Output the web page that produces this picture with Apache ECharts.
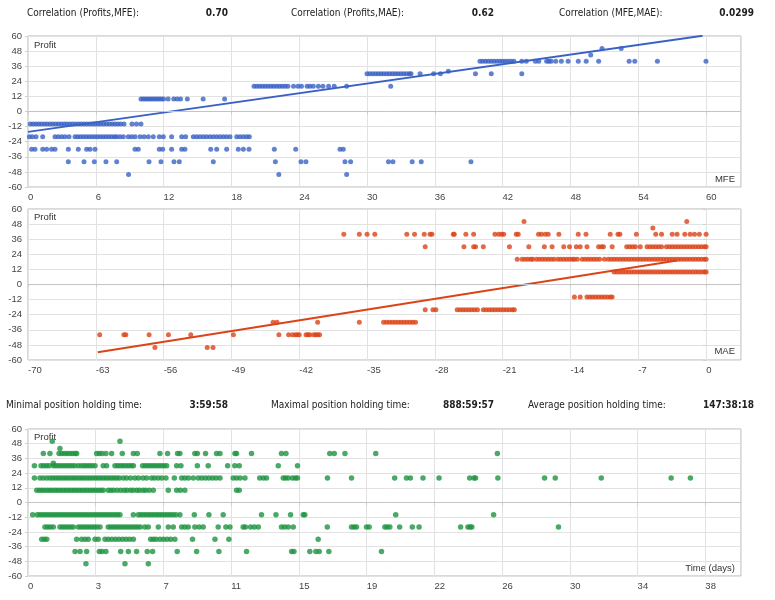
<!DOCTYPE html>
<html><head><meta charset="utf-8">
<script src="https://cdn.jsdelivr.net/npm/echarts@6/dist/echarts.min.js"></script>
<style>html,body{margin:0;padding:0;background:#fff}#c{width:775px;height:600px}</style>
</head><body><div id="c"></div>
<script>
// ---------- Chart 1: Profit vs MFE (MFE values per profit level) ----------
const mfe_m50 = [8.9, 22.2, 28.2];
const mfe_m40 = [3.57, 4.96, 5.87, 6.9, 7.85, 10.71, 11.77, 12.92, 13.39, 16.4, 21.89, 24.16, 24.6, 28.05, 28.55, 31.9, 32.3, 34.0, 34.8, 39.2];
const mfe_m30 = [0.32, 0.62, 1.3, 1.65, 2.09, 2.39, 3.57, 4.45, 5.19, 5.49, 5.93, 9.47, 9.76, 11.62, 11.92, 12.71, 13.6, 13.89, 16.17, 16.7, 17.58, 18.61, 19.06, 19.56, 21.8, 23.69, 27.61, 27.9];
const mfe_m20 = [0.12, 0.38, 0.71, 1.3, 2.39, 2.68, 2.98, 3.27, 3.63, 4.16, 4.4, 4.65, 4.9, 5.15, 5.4, 5.65, 5.9, 6.15, 6.4, 6.65, 6.9, 7.15, 7.4, 7.65, 7.85, 8.14, 8.44, 8.88, 9.17, 9.47, 9.91, 10.27, 10.65, 11.09, 11.62, 11.98, 12.71, 13.6, 13.95, 14.63, 14.93, 15.22, 15.52, 15.81, 16.11, 16.4, 16.7, 16.99, 17.29, 17.58, 17.88, 18.47, 18.76, 19.06, 19.35, 19.59];
const mfe_m10 = [0.2, 0.45, 0.7, 0.95, 1.2, 1.45, 1.7, 1.95, 2.2, 2.45, 2.7, 2.95, 3.2, 3.45, 3.7, 3.95, 4.2, 4.45, 4.7, 4.95, 5.2, 5.45, 5.7, 5.95, 6.2, 6.45, 6.7, 6.95, 7.2, 7.45, 7.7, 7.95, 8.2, 8.5, 9.2, 9.6, 10.0];
const mfe_p10 = [10.0, 10.2, 10.4, 10.6, 10.8, 11.0, 11.2, 11.4, 11.6, 11.8, 12.0, 12.4, 12.9, 13.2, 13.5, 14.1, 15.5, 17.4];
const mfe_p20 = [20.0, 20.25, 20.5, 20.75, 21.0, 21.25, 21.5, 21.75, 22.0, 22.25, 22.5, 22.75, 23.0, 23.5, 23.9, 24.2, 24.7, 24.96, 25.25, 25.7, 26.1, 26.6, 27.1, 28.2, 32.1];
const mfe_p30 = [30.0, 30.25, 30.5, 30.75, 31.0, 31.25, 31.5, 31.75, 32.0, 32.25, 32.5, 32.75, 33.0, 33.25, 33.5, 33.75, 33.9, 34.7, 35.9, 36.5, 39.6, 41.0, 43.7];
const mfe_p32 = [37.2];
const mfe_p40 = [40.0, 40.25, 40.5, 40.75, 41.0, 41.25, 41.5, 41.75, 42.0, 42.25, 42.5, 42.75, 43.0, 43.7, 44.1, 44.9, 45.2, 45.9, 46.1, 46.3, 46.7, 47.2, 47.8, 48.7, 49.4, 50.5, 53.2, 53.7, 55.7, 60.0];
const mfe_p45 = [49.8];
const mfe_p50 = [50.8, 52.5];
const trend1X = [0, 59.7];
const trend1Y = [-16.2, 60.2];

// ---------- Chart 2: Profit vs MAE ----------
const mae_m50 = [-56.9, -51.5, -50.9];
const mae_m40 = [-62.6, -60.1, -59.9, -57.5, -55.5, -53.2, -48.8, -44.1, -43.1, -42.7, -42.4, -42.2, -42.0, -41.3, -41.1, -40.9, -40.5, -40.3, -40.1, -39.9];
const mae_m30 = [-44.7, -44.3, -40.1, -35.8, -33.3, -33.0, -32.7, -32.4, -32.1, -31.8, -31.5, -31.2, -30.9, -30.6, -30.3, -30.0];
const mae_m20 = [-29.0, -28.2, -27.9, -25.7, -25.4, -25.1, -24.8, -24.5, -24.2, -23.9, -23.6, -23.0, -22.7, -22.4, -22.1, -21.8, -21.5, -21.2, -20.9, -20.6, -20.3, -20.0, -19.8];
const mae_m10 = [-13.6, -13.0, -12.3, -12.0, -11.7, -11.4, -11.1, -10.8, -10.5, -10.2, -9.9, -9.7];
const mae_p10 = [-9.5, -9.2, -8.9, -8.6, -8.3, -8.0, -7.7, -7.4, -7.1, -6.8, -6.5, -6.2, -5.9, -5.6, -5.3, -5.0, -4.7, -4.4, -4.1, -3.8, -3.5, -3.2, -2.9, -2.6, -2.3, -2.0, -1.7, -1.4, -1.1, -0.8, -0.5, -0.2, 0];
const mae_p20 = [-19.5, -19.0, -18.7, -18.4, -18.1, -17.9, -17.5, -17.2, -16.9, -16.6, -16.3, -16.0, -15.7, -15.3, -15.0, -14.7, -14.4, -14.1, -13.8, -13.6, -13.3, -12.8, -12.5, -12.2, -11.9, -11.6, -11.3, -11.0, -10.5, -10.1, -9.8, -9.5, -9.2, -8.9, -8.6, -8.3, -8.0, -7.7, -7.4, -7.1, -6.8, -6.5, -6.2, -5.9, -5.6, -5.3, -5.0, -4.7, -4.4, -4.1, -3.8, -3.5, -3.2, -2.9, -2.6, -2.3, -2.0, -1.7, -1.4, -1.1, -0.8, -0.5, -0.2, 0];
const mae_p30 = [-29.0, -25.0, -24.0, -23.8, -23.0, -20.3, -18.3, -16.7, -15.9, -14.7, -14.1, -13.4, -13.0, -12.3, -11.1, -10.8, -10.6, -9.7, -8.2, -7.9, -7.6, -7.3, -6.8, -6.1, -5.8, -5.5, -5.2, -4.9, -4.6, -4.1, -3.8, -3.5, -3.2, -2.9, -2.6, -2.3, -2.0, -1.7, -1.4, -1.1, -0.8, -0.5, -0.2, 0];
const mae_p40 = [-37.4, -35.8, -35.0, -34.2, -30.9, -30.1, -29.1, -28.5, -28.3, -26.1, -26.0, -24.8, -24.0, -21.8, -21.4, -21.1, -20.9, -19.6, -19.4, -17.3, -17.0, -16.6, -16.3, -15.2, -13.2, -12.4, -9.9, -9.1, -8.9, -7.2, -5.2, -4.6, -3.5, -3.0, -2.2, -1.65, -1.2, -0.7, 0];
const mae_p45 = [-5.5];
const mae_p50 = [-18.8, -2.0];
const trend2X = [-62.8, -3.0];
const trend2Y = [-53.9, 19.0];

// ---------- Chart 3: Profit vs holding time (days) ----------
const day_m50 = [3.25, 5.44, 6.75];
const day_m40 = [2.64, 2.92, 3.29, 4.0, 4.15, 4.37, 5.2, 5.63, 6.09, 6.69, 6.99, 8.37, 9.46, 10.71, 12.26, 14.79, 14.92, 15.81, 16.15, 16.34, 16.88, 19.83];
const day_m30 = [0.77, 0.92, 1.05, 2.73, 3.01, 3.2, 3.38, 3.76, 3.94, 4.32, 4.5, 4.7, 4.9, 5.1, 5.3, 5.5, 5.7, 5.91, 6.88, 7.03, 7.18, 7.4, 7.6, 7.8, 8.0, 8.24, 9.23, 10.49, 11.27, 16.28];
const day_m20 = [0.95, 1.1, 1.25, 1.42, 1.79, 1.94, 2.09, 2.24, 2.39, 2.54, 2.82, 2.97, 3.12, 3.27, 3.42, 3.57, 3.72, 3.87, 4.04, 4.5, 4.65, 4.8, 4.95, 5.1, 5.25, 5.4, 5.55, 5.7, 5.85, 6.0, 6.15, 6.3, 6.56, 6.75, 7.31, 7.87, 8.15, 8.62, 8.8, 8.99, 9.36, 9.6, 9.83, 10.67, 11.1, 11.33, 12.07, 12.2, 12.49, 12.7, 12.92, 14.22, 14.4, 14.6, 14.88, 16.79, 18.15, 18.3, 18.43, 18.99, 19.14, 20.02, 20.15, 20.3, 20.85, 21.56, 21.94, 24.27, 24.68, 24.8, 24.9, 29.76];
const day_m10 = [0.26, 0.52, 0.67, 0.82, 0.97, 1.12, 1.27, 1.42, 1.57, 1.72, 1.87, 2.02, 2.17, 2.32, 2.47, 2.62, 2.77, 2.92, 3.07, 3.22, 3.37, 3.52, 3.67, 3.82, 3.97, 4.12, 4.27, 4.42, 4.57, 4.72, 4.87, 5.02, 5.16, 5.91, 6.19, 6.34, 6.49, 6.64, 6.79, 6.94, 7.09, 7.24, 7.39, 7.54, 7.69, 7.84, 7.99, 8.14, 8.3, 8.52, 9.33, 10.15, 10.95, 13.1, 13.91, 14.73, 15.44, 15.53, 20.63, 26.12];
const day_p10 = [0.49, 0.64, 0.79, 0.94, 1.09, 1.24, 1.39, 1.54, 1.69, 1.84, 1.99, 2.14, 2.29, 2.44, 2.59, 2.74, 2.89, 3.04, 3.19, 3.34, 3.49, 3.64, 3.79, 3.94, 4.09, 4.22, 4.5, 4.65, 4.8, 5.0, 5.2, 5.4, 5.55, 5.75, 5.9, 6.1, 6.25, 6.45, 6.6, 6.8, 7.03, 7.87, 8.34, 8.55, 8.8, 11.7, 11.85];
const day_p20 = [0.36, 0.67, 0.85, 1.05, 1.23, 1.38, 1.53, 1.68, 1.83, 1.98, 2.13, 2.28, 2.43, 2.58, 2.73, 2.88, 3.03, 3.18, 3.33, 3.48, 3.63, 3.78, 3.93, 4.08, 4.23, 4.38, 4.53, 4.68, 4.83, 4.98, 5.13, 5.35, 5.53, 5.75, 6.0, 6.2, 6.45, 6.65, 6.93, 7.1, 7.3, 7.5, 7.74, 8.21, 8.62, 8.8, 9.0, 9.27, 9.55, 9.75, 9.95, 10.15, 10.35, 10.55, 10.77, 11.51, 11.7, 11.9, 12.17, 13.0, 13.2, 13.38, 14.32, 14.45, 14.6, 14.84, 15.0, 15.12, 16.8, 18.15, 20.57, 21.23, 21.45, 22.16, 23.06, 24.78, 25.02, 25.11, 26.36, 28.98, 29.58, 32.16, 36.08, 37.16];
const day_p30 = [0.36, 0.73, 0.88, 1.03, 1.18, 1.42, 1.57, 1.72, 1.87, 2.02, 2.17, 2.32, 2.47, 2.62, 2.82, 3.0, 3.15, 3.3, 3.45, 3.6, 3.76, 4.22, 4.41, 4.88, 5.03, 5.18, 5.33, 5.48, 5.63, 5.78, 5.91, 6.43, 6.58, 6.73, 6.88, 7.03, 7.18, 7.33, 7.48, 7.63, 7.78, 8.34, 8.58, 9.5, 10.11, 11.2, 11.6, 11.85, 14.04, 15.12];
const day_p32 = [1.42];
const day_p40 = [0.86, 1.23, 1.74, 1.89, 2.04, 2.19, 2.34, 2.49, 2.64, 2.73, 3.85, 4.0, 4.15, 4.37, 4.69, 5.29, 5.91, 6.13, 7.4, 7.83, 8.39, 8.52, 9.36, 9.5, 9.96, 10.58, 10.77, 11.61, 11.7, 12.54, 14.22, 14.47, 16.93, 17.18, 17.78, 19.51, 26.33];
const day_p44 = [1.79];
const day_p50 = [1.36, 5.16];

// ---------- Axis ticks ----------
const profitMin = -60, profitMax = 60, profitStep = 12;
const mfeMin = 0, mfeMax = 63.1, mfeStep = 6;
const maeMin = -70, maeMax = 3.6, maeStep = 7;
const dayMin = 0, dayMax = 40, dayStep = 3.8;

// ---------- Header texts ----------
const corrLabels = ['Correlation (Profits,MFE):', 'Correlation (Profits,MAE):', 'Correlation (MFE,MAE):'];
const corrValues = ['0.70', '0.62', '0.0299'];
const timeLabels = ['Minimal position holding time:', 'Maximal position holding time:', 'Average position holding time:'];
const timeValues = ['3:59:58', '888:59:57', '147:38:18'];

function pts(arr, level) { return arr.map(v => [v, level]); }
const data1 = [].concat(pts(mfe_m50,-50), pts(mfe_m40,-40), pts(mfe_m30,-30), pts(mfe_m20,-20), pts(mfe_m10,-10),
  pts(mfe_p10,10), pts(mfe_p20,20), pts(mfe_p30,30), pts(mfe_p32,32), pts(mfe_p40,40), pts(mfe_p45,45), pts(mfe_p50,50));
const data2 = [].concat(pts(mae_m50,-50), pts(mae_m40,-40), pts(mae_m30,-30), pts(mae_m20,-20), pts(mae_m10,-10),
  pts(mae_p10,10), pts(mae_p20,20), pts(mae_p30,30), pts(mae_p40,40), pts(mae_p45,45), pts(mae_p50,50));
const data3 = [].concat(pts(day_m50,-50), pts(day_m40,-40), pts(day_m30,-30), pts(day_m20,-20), pts(day_m10,-10),
  pts(day_p10,10), pts(day_p20,20), pts(day_p30,30), pts(day_p32,32), pts(day_p40,40), pts(day_p44,44), pts(day_p50,50));

const BLUE = '#3a62c6', RED = '#dc4418', GREEN = '#1d9440';
const AX_FONT = 'Liberation Sans, Arial, sans-serif';
const HEAD_FONT = '"Liberation Sans Narrow", "DejaVu Sans Condensed", sans-serif';

const grids = [
  {left: 28, top: 36, width: 713, height: 151},
  {left: 28, top: 209, width: 713, height: 151},
  {left: 28, top: 429, width: 713, height: 147}
].map(g => Object.assign({show: true, borderColor: '#b5b5b5', borderWidth: 1, containLabel: false}, g));

function xAx(i, min, max, step, fmt) {
  return {
    type: 'value', gridIndex: i, min: min, max: max, interval: step,
    axisLine: {show: false},
    axisTick: {show: true, length: 3, lineStyle: {color: '#cfcfcf'}},
    splitLine: {show: true, lineStyle: {color: '#e2e2e2', width: 1}},
    axisLabel: {show: true, align: 'left', margin: 5, color: '#444', fontSize: 9.5, fontFamily: AX_FONT,
      showMaxLabel: false, formatter: fmt}
  };
}
function yAx(i) {
  return {
    type: 'value', gridIndex: i, min: profitMin, max: profitMax, interval: profitStep,
    axisLine: {show: false},
    axisTick: {show: true, length: 3, lineStyle: {color: '#cfcfcf'}},
    splitLine: {show: true, lineStyle: {color: '#e2e2e2', width: 1}},
    axisLabel: {show: true, margin: 6, color: '#444', fontSize: 9.5, fontFamily: AX_FONT}
  };
}

const zeroLine = {silent: true, symbol: 'none', label: {show: false},
  lineStyle: {color: '#c4c4c4', type: 'solid', width: 1}, data: [{yAxis: 0}]};

function text(x, y, str, opts) {
  return Object.assign({type: 'text', x: x, y: y, silent: true,
    style: Object.assign({text: str, fill: '#222', font: '10px ' + HEAD_FONT, textVerticalAlign: 'middle'}, opts || {})});
}
const labelXs = [27, 291, 559];
const valueRightXs = [228, 494, 754];
const timeLabelXs = [6, 271, 528];
const graphics = [];
corrLabels.forEach((t, i) => graphics.push(text(labelXs[i], 13, t)));
corrValues.forEach((t, i) => graphics.push(text(valueRightXs[i], 13, t, {textAlign: 'right', font: 'bold 10px ' + HEAD_FONT})));
timeLabels.forEach((t, i) => graphics.push(text(timeLabelXs[i], 405, t)));
timeValues.forEach((t, i) => graphics.push(text(valueRightXs[i], 405, t, {textAlign: 'right', font: 'bold 10px ' + HEAD_FONT})));
const axFontStyle = '9.5px ' + AX_FONT;
graphics.push(text(34, 45, 'Profit', {font: axFontStyle, fill: '#333'}));
graphics.push(text(735, 179, 'MFE', {font: axFontStyle, fill: '#333', textAlign: 'right'}));
graphics.push(text(34, 217, 'Profit', {font: axFontStyle, fill: '#333'}));
graphics.push(text(735, 351, 'MAE', {font: axFontStyle, fill: '#333', textAlign: 'right'}));
graphics.push(text(34, 437, 'Profit', {font: axFontStyle, fill: '#333'}));
graphics.push(text(735, 568, 'Time (days)', {font: axFontStyle, fill: '#333', textAlign: 'right'}));

const option = {
  animation: false,
  backgroundColor: '#fff',
  grid: grids,
  xAxis: [
    xAx(0, mfeMin, mfeMax, mfeStep),
    xAx(1, maeMin, maeMax, maeStep),
    xAx(2, dayMin, dayMax, dayStep, v => String(Math.floor(v + 1e-9)))
  ],
  yAxis: [yAx(0), yAx(1), yAx(2)],
  graphic: graphics,
  series: [
    {type: 'scatter', xAxisIndex: 0, yAxisIndex: 0, data: data1, symbolSize: 5, itemStyle: {color: BLUE}, z: 2},
    {type: 'line', xAxisIndex: 0, yAxisIndex: 0, data: trend1X.map((x, i) => [x, trend1Y[i]]), symbol: 'none',
      lineStyle: {color: BLUE, width: 2}, z: 3, markLine: zeroLine},
    {type: 'scatter', xAxisIndex: 1, yAxisIndex: 1, data: data2, symbolSize: 5, itemStyle: {color: RED}, z: 2},
    {type: 'line', xAxisIndex: 1, yAxisIndex: 1, data: trend2X.map((x, i) => [x, trend2Y[i]]), symbol: 'none',
      lineStyle: {color: RED, width: 2}, z: 3, markLine: zeroLine},
    {type: 'scatter', xAxisIndex: 2, yAxisIndex: 2, data: data3, symbolSize: 5.5, itemStyle: {color: GREEN}, z: 2,
      markLine: zeroLine}
  ]
};
const chart = echarts.init(document.getElementById('c'));
chart.setOption(option);
</script></body></html>
